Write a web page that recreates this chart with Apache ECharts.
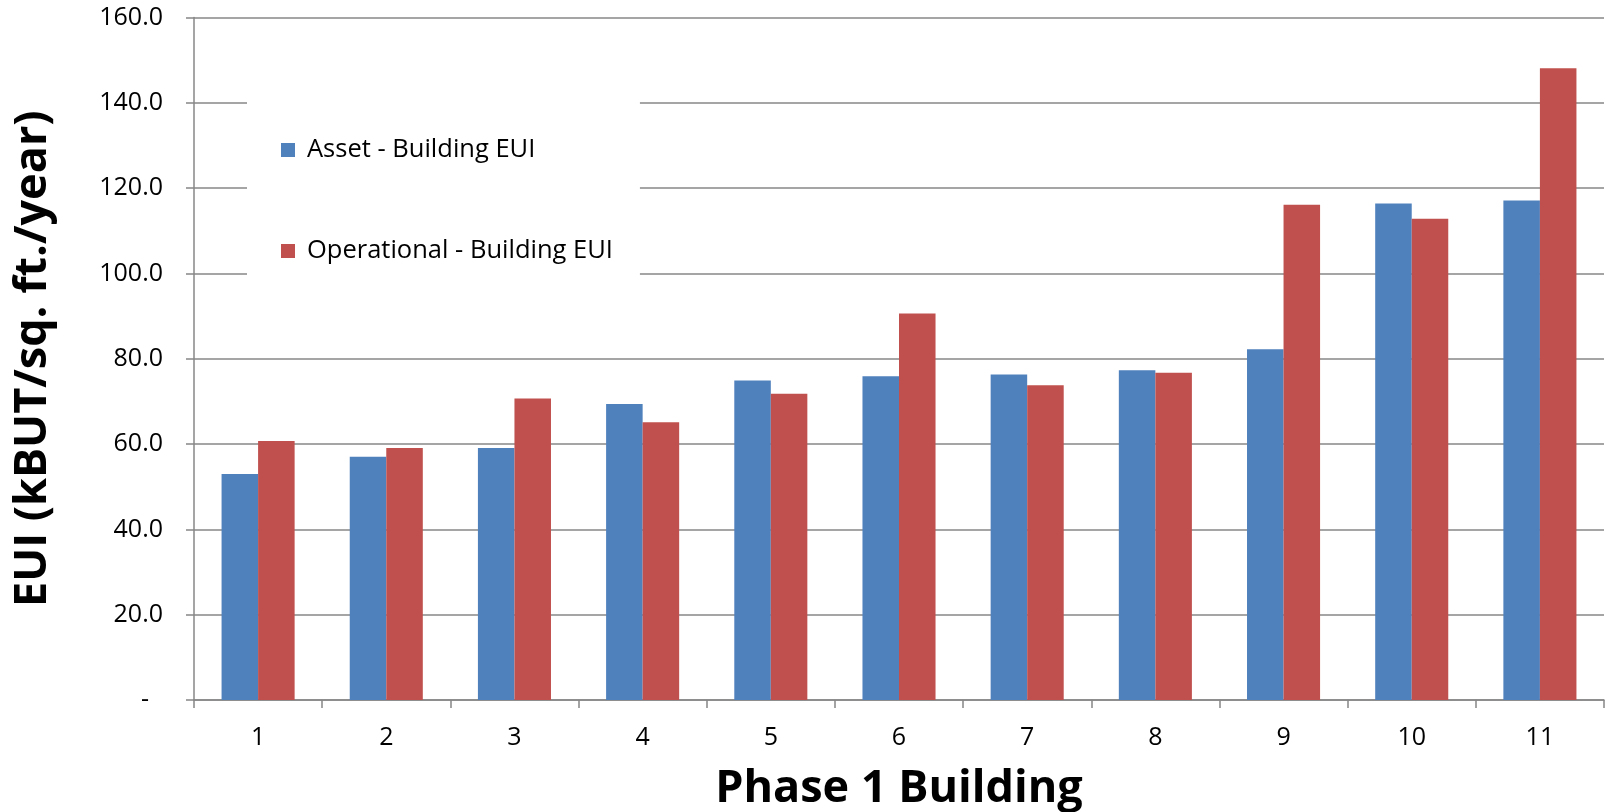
<!DOCTYPE html>
<html>
<head>
<meta charset="utf-8">
<title>Phase 1 Building EUI</title>
<script src="https://cdn.jsdelivr.net/npm/echarts@6/dist/echarts.min.js"></script>
<style>
  html, body { margin: 0; padding: 0; background: #fff; }
  #chart { width: 1612px; height: 812px; }
</style>
</head>
<body>
<div id="chart"></div>
<script>
// Building numbers along the x axis
const buildings = ['1', '2', '3', '4', '5', '6', '7', '8', '9', '10', '11'];

// Modelled (asset) energy use intensity, kBtu/sq. ft./year
const assetEUI = [53.0, 57.0, 59.1, 69.4, 74.9, 75.9, 76.3, 77.3, 82.2, 116.4, 117.1];

// Metered (operational) energy use intensity, kBtu/sq. ft./year
const operationalEUI = [60.7, 59.1, 70.7, 65.1, 71.8, 90.6, 73.8, 76.7, 116.1, 112.8, 148.1];

// Value axis range and step
const yMin = 0;
const yMax = 160;
const yStep = 20;

const seriesNames = ['Asset - Building EUI', 'Operational - Building EUI'];

const gridColor = '#878787';
const labelFont = 'Open Sans';

const chart = echarts.init(document.getElementById('chart'), null, { renderer: 'canvas' });

chart.setOption({
  animation: false,
  backgroundColor: '#ffffff',
  grid: {
    left: 194, right: 8, top: 17.5, bottom: 112,
    containLabel: false,
    outerBoundsMode: 'none'
  },
  legend: {
    orient: 'vertical',
    left: 247,
    top: 80,
    backgroundColor: '#ffffff',
    padding: [57, 27, 28, 34],
    itemWidth: 14,
    itemHeight: 14,
    itemGap: 75,
    icon: 'rect',
    selectedMode: false,
    data: seriesNames,
    textStyle: {
      fontFamily: labelFont,
      fontSize: 25.5,
      lineHeight: 26,
      color: '#000',
      padding: [0, 0, 0, 7]
    }
  },
  xAxis: {
    type: 'category',
    data: buildings,
    boundaryGap: true,
    name: 'Phase 1 Building',
    nameLocation: 'middle',
    nameGap: 67,
    nameTextStyle: { fontFamily: labelFont, fontWeight: 'bold', fontSize: 45, color: '#000' },
    axisLine: { show: true, lineStyle: { color: gridColor, width: 1.5 } },
    axisTick: { show: true, length: 8, alignWithLabel: false, lineStyle: { color: gridColor, width: 1.5 } },
    axisLabel: { fontFamily: labelFont, fontSize: 25, color: '#000', margin: 25 },
    splitLine: { show: false }
  },
  yAxis: {
    type: 'value',
    min: yMin,
    max: yMax,
    interval: yStep,
    name: 'EUI (kBUT/sq. ft./year)',
    nameLocation: 'middle',
    nameRotate: 90,
    nameGap: 138,
    nameTextStyle: { fontFamily: labelFont, fontWeight: 'bold', fontSize: 45, color: '#000' },
    axisLine: { show: true, lineStyle: { color: gridColor, width: 1.5 } },
    axisTick: { show: true, length: 8, lineStyle: { color: gridColor, width: 1.5 } },
    axisLabel: {
      fontFamily: labelFont,
      fontSize: 25,
      color: '#000',
      margin: 31,
      formatter: function (v) {
        return v === 0 ? '{dash|-}' : v.toFixed(1);
      },
      rich: {
        dash: { fontFamily: labelFont, fontSize: 25, color: '#000', padding: [0, 14, 0, 0] }
      }
    },
    splitLine: { show: true, lineStyle: { color: gridColor, width: 1.5 } }
  },
  series: [
    {
      name: seriesNames[0],
      type: 'bar',
      data: assetEUI,
      barGap: '0%',
      barCategoryGap: '43%',
      itemStyle: { color: '#4F81BD' }
    },
    {
      name: seriesNames[1],
      type: 'bar',
      data: operationalEUI,
      barGap: '0%',
      barCategoryGap: '43%',
      itemStyle: { color: '#C0504D' }
    }
  ]
});
</script>
</body>
</html>
